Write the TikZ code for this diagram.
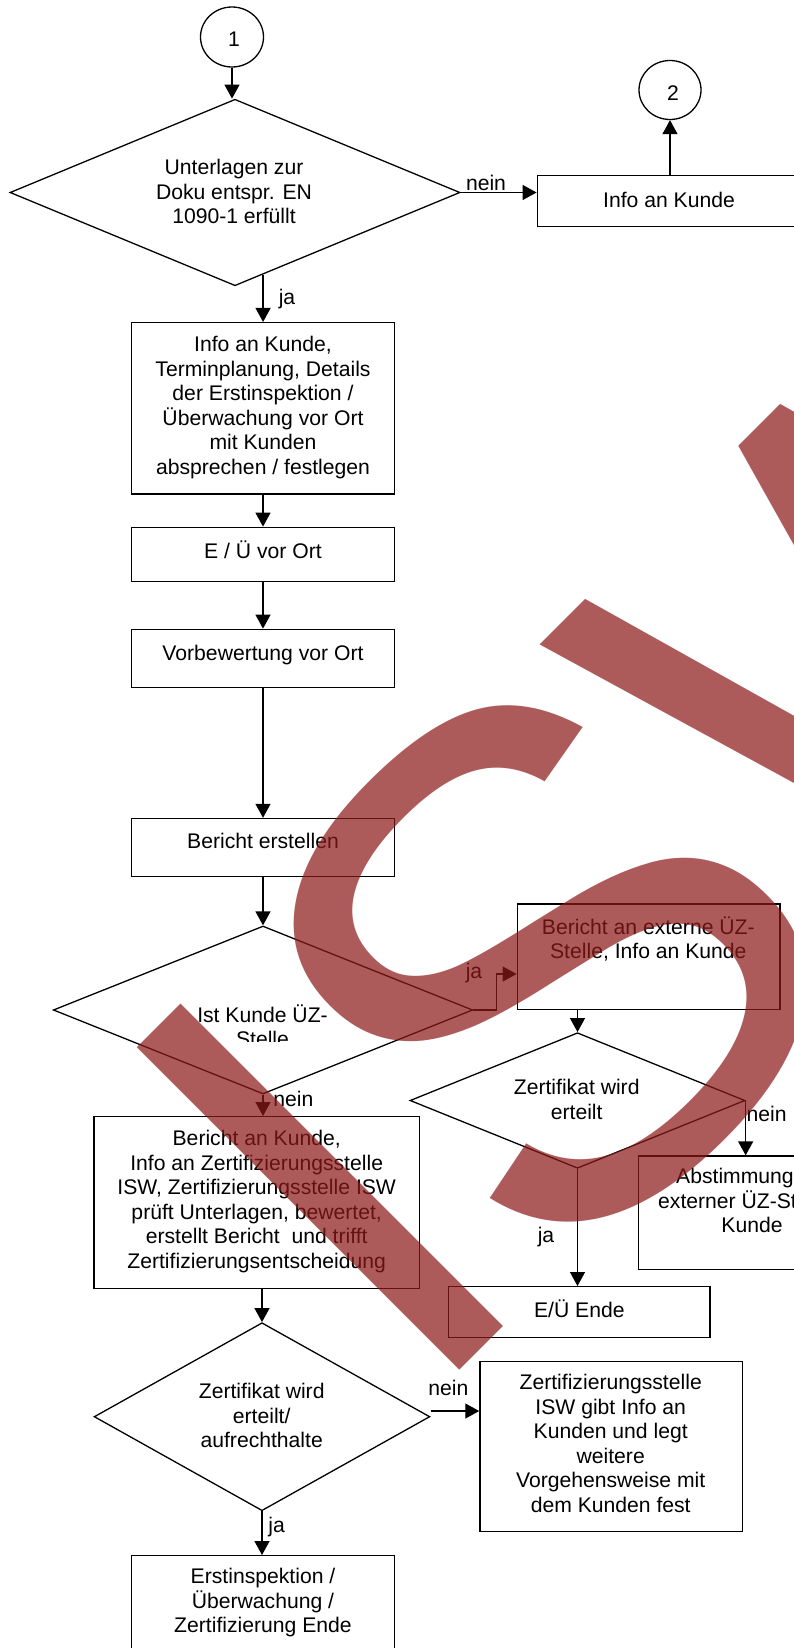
\documentclass[tikz,border=0pt]{standalone}
\usepackage{fontspec}
\setmainfont{Liberation Sans}
\newfontfamily\wmfont{Liberation Sans}
\usetikzlibrary{shapes.geometric,arrows.meta,calc}
\newcommand{\ws}{\rule[-5pt]{0pt}{24.5pt}}
\newcommand{\ft}{\fontsize{21.15}{24.5}\selectfont}
\definecolor{wmred}{RGB}{140,25,25}
\begin{document}
\begin{tikzpicture}[x=1pt,y=-1pt,line width=1.3pt,
  arr/.style={-{Triangle[width=15pt,length=14pt]}},
  box/.style={draw,rectangle,line width=1.4pt,inner sep=0pt},
  dia/.style={draw,diamond,inner sep=0pt},
  conn/.style={draw,ellipse,inner sep=0pt},
  txt/.style={align=center,inner sep=0pt,font=\ft,execute at begin node=\ws,execute at end node=\ws},
  lbl/.style={inner sep=0pt,font=\ft,execute at begin node=\ws},
  wmk/.style={text=wmred,opacity=0.714,text opacity=0.714,rotate=45,anchor=base west,inner sep=0pt}]
\useasboundingbox (0,0) rectangle (794,1648);
\clip (0,0) rectangle (794,1648);
\fill[white] (0,0) rectangle (794,1648);

% connectors circles
\node[conn,minimum width=63,minimum height=60] (c1) at (232,37) {};
\node[txt] (c1t) at (234,39) {1};
\node[conn,minimum width=62,minimum height=59] (c2) at (670,90) {};
\node[txt] (c2t) at (673,93) {2};

% diamond 1
\node[dia,minimum width=450,minimum height=186.5] (d1) at (235,192.5) {};
\node[txt] (d1t) at (234,194.2) {Unterlagen zur\\Doku entspr. EN\\1090-1 erfüllt};

% info box top right
\node[box,minimum width=265.4,minimum height=51] (info1) at (670,201.2) {};
\node[txt] (info1t) at (669,200) {Info an Kunde};

% main column
\node[box,minimum width=262.7,minimum height=171.3] (b2) at (263,408.3) {};
\node[txt] (b2t) at (263,407.7) {Info an Kunde,\\Terminplanung, Details\\der Erstinspektion /\\Überwachung vor Ort\\mit Kunden\\absprechen / festlegen};
\node[box,minimum width=262.7,minimum height=54.4] (b3) at (263,554.5) {};
\node[txt] (b3t) at (263,551.7) {E / Ü vor Ort};
\node[box,minimum width=262.7,minimum height=58.4] (b4) at (263,658.5) {};
\node[txt] (b4t) at (263,653.3) {Vorbewertung vor Ort};
\node[box,minimum width=262.7,minimum height=58.2] (b5) at (263,847.6) {};
\node[txt] (b5t) at (263,841.7) {Bericht erstellen};

% diamond 2
\node[dia,minimum width=419.4,minimum height=168] (d2) at (263,1010) {};
\begin{scope}
\clip (50,985) rectangle (475,1041.7);
\node[txt] (d2t) at (262.5,1028.2) {Ist Kunde ÜZ-\\Stelle};
\end{scope}

% right branch
\node[box,minimum width=262.7,minimum height=105.3] (b6) at (648.7,956.7) {};
\node[txt] (b6t) at (648.3,940) {Bericht an externe ÜZ-\\Stelle, Info an Kunde};
\node[dia,minimum width=335,minimum height=135.6] (d3) at (577.5,1100.5) {};
\node[txt] (d3t) at (576.7,1102) {Zertifikat wird\\erteilt};
\node[box,minimum width=227.4,minimum height=113.3] (b7) at (752,1212.7) {};
\node[txt] (b7t) at (752,1203.3) {Abstimmung mit\\externer ÜZ-St. und\\Kunde};
\node[box,minimum width=261.7,minimum height=51] (b8) at (579.2,1312.2) {};
\node[txt] (b8t) at (579.3,1310) {E/Ü Ende};

% lower left
\node[box,minimum width=325.3,minimum height=171.6] (b9) at (256.7,1202.5) {};
\node[txt] (b9t) at (256.7,1201.7) {Bericht an Kunde,\\Info an Zertifizierungsstelle\\ISW, Zertifizierungsstelle ISW\\prüft Unterlagen, bewertet,\\erstellt Bericht~ und trifft\\Zertifizierungsentscheidung};
\node[dia,minimum width=335.7,minimum height=188] (d4) at (262,1416.7) {};
\node[txt] (d4t) at (261.7,1418.1) {Zertifikat wird\\erteilt/\\aufrechthalte};
\node[box,minimum width=262.7,minimum height=170] (b10) at (611.3,1446.7) {};
\node[txt] (b10t) at (610.7,1446) {Zertifizierungsstelle\\ISW gibt Info an\\Kunden und legt\\weitere\\Vorgehensweise mit\\dem Kunden fest};
\node[box,minimum width=262.7,minimum height=105] (b11) at (263,1608.2) {};
\node[txt] (b11t) at (263,1603.3) {Erstinspektion /\\Überwachung /\\Zertifizierung Ende};

% connectors
\draw[arr] (c1.south) -- (c1.south |- d1.north);
\draw[arr] (d1.east) -- (d1.east -| info1.west);
\draw[arr] (info1.north -| c2.south) -- (c2.south);
\coordinate (d1j) at ($(d1.south)!0.1244!(d1.east)$);
\draw[arr] (d1j) -- (d1j |- b2.north);
\draw[arr] (b2.south) -- (b3.north);
\draw[arr] (b3.south) -- (b4.north);
\draw[arr] (b4.south) -- (b5.north);
\draw[arr] (b5.south) -- (d2.north);
\draw[arr] (d2.east) -- ++(23,0) |- ($(b6.west)+(0,17.3)$);
\draw[arr] (b6.south -| d3.north) -- (d3.north);
\draw[arr] (d3.east) -- (d3.east |- b7.north);
\draw[arr] (d3.south) -- (d3.south |- b8.north);
\draw[arr] (d2.south) -- (d2.south |- b9.north);
\draw[arr] (b9.south -| d4.north) -- (d4.north);
\coordinate (d4n) at ($(d4.east)+(0,-5.7)$);
\draw[arr] (d4n) -- (d4n -| b10.west);
\draw[arr] (d4.south) -- (d4.south |- b11.north);

% labels
\node[lbl] (l1) at (486,183) {nein};
\node[lbl] (l2) at (287,297) {ja};
\node[lbl] (l3) at (474,971.7) {ja};
\node[lbl] (l4) at (293.3,1099.3) {nein};
\node[lbl] (l5) at (766.7,1114) {nein};
\node[lbl] (l6) at (546,1235) {ja};
\node[lbl] (l7) at (448.3,1388.3) {nein};
\node[lbl] (l8) at (276.7,1525) {ja};

% watermark
\node[wmk,font=\wmfont\fontsize{663}{663}\selectfont] (wmI) at (415.8,1414.2) {I};
\node[wmk,font=\wmfont\fontsize{712.7}{712.7}\selectfont] (wmS) at (549.9,1305.4) {S};
\node[wmk,font=\wmfont\fontsize{663}{663}\selectfont] (wmW) at (860,970) {W};
\end{tikzpicture}
\end{document}
